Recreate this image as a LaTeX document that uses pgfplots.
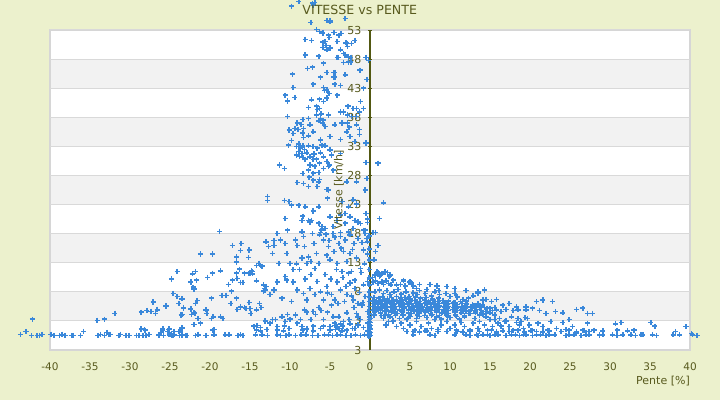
\documentclass[border=0pt]{standalone}
\usepackage{fontspec}
\setmainfont{DejaVu Sans}
\usepackage{pgfplots}
\pgfplotsset{compat=1.18}
\definecolor{bgc}{RGB}{236,241,205}
\definecolor{bandc}{RGB}{242,242,242}
\definecolor{gridc}{RGB}{217,217,217}
\definecolor{framec}{RGB}{214,214,214}
\definecolor{textc}{RGB}{88,90,30}
\definecolor{axisc}{RGB}{82,88,18}
\definecolor{ptc}{RGB}{58,136,218}
\begin{document}
\begin{tikzpicture}
\useasboundingbox (0,0) rectangle (720bp,400bp);
\fill[bgc] (0,0) rectangle (720bp,400bp);
\begin{axis}[at={(50bp,50bp)},anchor=south west,scale only axis,width=640bp,height=320bp,
  xmin=-40,xmax=40,ymin=-2,ymax=53,xtick=\empty,ytick=\empty,
  axis line style={draw=framec,line width=1.5bp},axis on top]
\fill[white] (axis cs:-40,-2) rectangle (axis cs:40,53);
\fill[bandc] (axis cs:-40,3) rectangle (axis cs:40,8);
\fill[bandc] (axis cs:-40,13) rectangle (axis cs:40,18);
\fill[bandc] (axis cs:-40,23) rectangle (axis cs:40,28);
\fill[bandc] (axis cs:-40,33) rectangle (axis cs:40,38);
\fill[bandc] (axis cs:-40,43) rectangle (axis cs:40,48);
\end{axis}
\begin{axis}[at={(50bp,50bp)},anchor=south west,scale only axis,width=640bp,height=320bp,
  xmin=-40,xmax=40,ymin=-2,ymax=53,clip=false,
  axis x line=bottom, axis y line=center,
  hide obscured x ticks=false, hide obscured y ticks=false,
  x axis line style={draw=framec,line width=1.5bp,-},
  y axis line style={draw=axisc,line width=1.3bp,-},
  xtick={-40,-35,...,40},
  xticklabels={-40,-35,-30,-25,-20,-15,-10,-5,0,5,10,15,20,25,30,35,40},
  xtick style={draw=none},
  ytick={-2,3,...,53},
  yticklabels={3,3,8,13,18,23,28,33,38,43,48,53},
  ytick style={draw=axisc,line width=0.8bp},
  tick align=center, major tick length=4bp,
  ymajorgrids, major grid style={draw=gridc,line width=1bp},
  xticklabel style={font=\fontsize{10.5bp}{12bp}\selectfont,text=textc,yshift=-7bp},
  yticklabel style={font=\fontsize{11bp}{13bp}\selectfont,text=textc,anchor=east,xshift=-3bp},
  title={VITESSE vs PENTE},
  title style={font=\fontsize{12.6bp}{15bp}\selectfont,text=textc,at={(axis description cs:0.484,1.043)},anchor=center,inner sep=0pt},
  xlabel={Pente [\%]},
  xlabel style={font=\fontsize{11bp}{13bp}\selectfont,text=textc,at={(axis description cs:1,-0.097)},anchor=east,inner sep=0pt},
  ylabel={Vitesse [km/h]},
  ylabel style={font=\fontsize{11bp}{13bp}\selectfont,text=textc,at={(axis description cs:0.4516,0.5)},anchor=center,rotate=90,inner sep=0pt},
]
\addplot[only marks, mark=+, mark size=2.6bp, color=ptc, mark options={line width=1.5bp}] coordinates {
(-43.7,0.7)(-43.0,1.2)(-42.2,3.3)(-42.3,0.5)(-41.6,0.5)(-41.3,0.5)(-41.0,0.7)(-39.9,0.7)(-39.5,0.5)(-38.8,0.5)
(-38.5,0.7)(-38.1,0.5)(-37.3,0.5)(-37.1,0.5)(-36.2,0.5)(-35.8,1.2)(-34.1,3.1)(-34.0,0.5)(-33.7,0.7)(-33.2,3.3)
(-33.2,0.5)(-32.9,1.0)(-32.6,0.7)(-32.5,0.7)(-31.9,4.3)(-31.4,0.5)(-31.2,0.7)(-30.5,0.5)(-30.1,0.5)(-29.2,0.5)
(-28.9,0.5)(-28.6,1.6)(-28.6,4.5)(-28.2,1.5)(-28.4,0.5)(-28.0,0.5)(-27.9,4.8)(-27.6,0.7)(-27.3,4.6)(-27.1,6.2)
(-26.8,4.3)(-26.6,5.0)(-26.4,0.5)(-26.1,1.0)(-25.9,1.6)(-25.5,5.5)(-25.3,1.2)(-25.1,1.6)(-25.0,0.6)(-24.9,0.6)
(-24.6,0.5)(-24.5,1.2)(-23.9,1.2)(-23.5,1.8)(-23.8,0.5)(-23.5,0.5)(-22.9,0.5)(-23.9,6.0)(-23.3,5.2)(-23.5,4.1)
(-22.4,5.0)(-22.3,4.1)(-21.9,4.3)(-22.0,2.4)(-21.8,6.0)(-21.5,3.4)(-21.8,0.5)(-21.5,0.7)(-28.1,1.4)
(-18.8,18.4)(-21.2,14.5)(-19.7,14.5)(-24.1,11.5)(-24.8,10.2)(-22.2,11.1)(-21.8,11.5)(-22.4,9.7)(-22.1,8.8)(-22.0,8.5)
(-21.7,10.0)(-20.3,10.5)(-19.7,11.2)(-18.7,11.6)(-24.6,7.7)(-24.1,7.2)(-25.5,5.6)(-27.1,6.3)(-26.6,4.9)(-27.4,4.6)
(-23.5,6.8)(-23.3,5.3)(-23.6,4.0)(-22.4,5.1)(-22.0,4.4)(-21.6,6.5)(-21.2,2.6)(-20.5,4.9)(-20.4,4.3)(-19.8,6.9)
(-19.6,3.7)(-19.8,3.4)(-18.7,3.7)(-18.4,3.4)(-18.5,7.4)(-18.0,7.4)(-17.3,8.1)(-17.7,9.3)(-17.2,10.0)(-16.7,11.2)
(-16.3,11.9)(-17.2,16.0)(-16.1,16.3)(-16.7,13.1)(-16.2,15.1)(-15.1,15.2)(-16.7,14.0)(-16.6,10.3)(-16.2,9.6)(-15.9,9.6)
(-15.7,11.2)(-15.1,11.2)(-14.8,11.6)(-14.7,11.1)(-14.2,9.9)(-13.2,8.6)(-13.3,8.1)(-17.4,6.0)(-16.7,6.9)(-16.6,5.0)
(-16.2,5.4)(-15.7,5.3)(-15.5,5.1)(-15.0,5.1)(-14.9,4.3)(-15.1,6.2)(-14.2,4.9)(-13.8,6.0)(-13.6,5.3)
(-26.4,0.6)(-25.8,0.5)(-25.1,0.6)(-24.8,0.5)(-24.5,0.6)(-23.5,0.6)(-23.0,0.5)(-21.5,0.6)(-20.5,0.5)(-19.5,0.6)
(-18.1,0.6)(-16.5,0.5)(-16.2,0.6)(-15.9,0.5)(-14.3,0.6)(-12.8,0.5)(-11.6,0.6)(-10.5,0.5)(-10.1,0.6)(-9.3,0.5)
(-8.0,0.6)(-7.2,0.5)(-5.7,0.6)(-4.7,0.5)(-3.7,0.6)(-3.0,0.5)(-17.6,0.6)(-13.5,0.6)(-11.2,0.5)(-8.6,0.6)
(-6.5,0.5)(-5.2,0.6)(-4.1,0.6)(-2.4,0.5)(-1.8,0.6)(-1.2,0.5)(-0.7,0.6)
(-25.9,1.4)(-25.2,1.5)(-23.7,1.3)(-19.7,1.4)(-19.5,1.5)(-14.2,1.4)(-13.7,1.3)(-12.9,1.5)(-11.6,1.4)(-10.8,1.3)
(-8.4,1.4)(-7.9,1.5)(-7.1,1.3)(-5.0,1.4)(-4.3,1.5)(-3.5,1.3)
(-14.1,2.2)(-13.1,3.0)(-12.2,3.2)(-11.6,2.0)(-11.6,1.4)(-11.0,3.7)(-10.6,2.9)(-10.3,4.1)(-10.0,3.3)(-9.3,4.0)
(-8.7,3.2)(-8.2,4.9)(-7.9,4.5)(-7.4,3.2)(-7.1,4.6)(-6.8,4.1)(-6.4,5.3)(-6.1,4.8)(-5.8,3.2)(-5.3,4.5)
(-4.8,5.7)(-4.6,3.7)(-4.4,2.2)(-4.1,2.0)(-3.9,3.7)(-3.7,2.5)(-3.3,2.9)(-2.9,4.4)(-2.6,3.2)(-2.2,1.7)
(-2.0,5.3)(-1.7,4.3)(-1.5,3.7)(-1.2,3.2)(-1.0,5.7)
(-14.7,11.5)(-13.3,9.2)(-13.1,8.3)(-13.0,8.9)(-12.5,7.5)(-12.0,8.3)(-11.6,9.7)(-11.0,6.9)(-10.6,10.6)(-10.4,10.0)
(-9.8,6.3)(-9.6,9.7)(-9.1,8.3)(-8.3,7.7)(-7.9,6.6)(-7.5,8.6)(-6.9,7.5)(-6.2,8.0)(-5.8,6.6)(-5.4,8.9)
(-4.8,7.5)(-4.4,6.6)(-4.1,9.7)(-3.7,8.3)(-3.2,6.3)(-2.9,7.5)(-2.5,9.5)(-2.1,6.6)(-1.9,8.6)(-1.5,6.0)
(-0.8,9.2)(-0.6,7.2)
(-15.2,13.9)(-15.0,11.2)(-14.2,12.5)(-13.9,12.9)(-13.7,12.5)(-13.5,12.4)(-13.0,16.6)(-12.7,15.8)(-12.2,14.6)(-12.0,16.0)
(-12.0,16.8)(-11.6,18.0)(-11.4,12.9)(-11.2,16.9)(-10.6,16.3)(-10.4,14.6)(-10.3,18.6)(-10.0,12.9)(-9.6,11.8)(-9.3,16.9)
(-9.1,16.0)(-8.5,13.8)(-8.5,18.3)(-8.3,17.5)(-8.2,15.8)(-7.9,12.9)(-7.7,14.0)(-7.4,13.2)(-7.2,18.0)(-7.0,16.3)
(-6.7,14.6)(-6.4,12.9)(-6.3,17.8)(-6.1,18.6)(-5.8,16.9)(-5.4,14.3)(-5.2,15.8)(-5.0,13.5)(-4.6,18.0)(-4.5,14.9)
(-4.1,12.9)(-3.9,16.3)(-3.7,17.5)(-3.5,11.5)(-3.3,14.9)(-3.1,16.9)(-2.9,13.2)(-2.7,18.3)(-2.5,14.6)(-2.3,11.5)
(-2.0,16.3)(-1.7,13.8)(-1.5,17.2)(-1.2,12.0)(-0.8,15.2)(-0.6,18.0)
(-5.6,11.0)(-4.9,10.2)(-4.2,11.8)(-3.4,10.5)(-2.7,11.2)(-1.9,10.0)(-1.1,11.3)(-0.7,12.8)(-5.3,7.8)(-3.0,8.9)
(-1.3,7.9)(-0.9,6.2)(-2.3,7.3)(-4.0,6.0)(-6.6,9.8)(-7.4,11.0)(-8.1,10.2)(-8.8,11.8)(-9.2,12.8)(-6.9,12.0)
(-5.1,16.8)(-3.6,15.5)(-2.2,15.3)(-1.0,16.5)(-4.4,17.4)
(-14.5,2.1)(-13.7,1.9)(-12.5,2.6)(-11.8,3.2)(-10.7,2.1)(-10.1,1.7)(-9.1,2.6)(-8.5,2.0)(-7.9,1.7)(-7.1,2.1)
(-6.2,1.7)(-5.8,2.1)(-5.0,2.0)(-4.4,2.6)(-3.9,1.7)(-3.4,2.1)(-2.9,1.4)(-2.5,2.5)(-1.9,1.7)(-1.5,2.3)(-0.8,1.9)
(-8.5,20.3)(-7.5,20.0)(-6.4,19.8)(-6.2,18.2)(-5.5,17.9)(-4.6,19.2)(-3.7,18.2)(-3.1,19.8)(-2.5,17.8)(-2.1,18.9)
(-1.5,20.0)(-0.8,18.6)(-0.4,17.2)
(-9.8,57.1)(-8.9,57.9)(-7.2,57.6)(-6.9,57.7)(-7.1,57.3)(-7.4,54.3)(-5.4,54.6)(-5.0,54.4)(-6.7,53.1)(-6.3,52.7)
(-5.9,52.5)(-5.2,52.1)(-5.1,51.7)(-4.5,52.6)(-3.9,52.1)(-8.1,51.4)(-7.3,51.2)(-5.9,50.9)(-5.6,51.0)(-5.4,49.6)
(-5.0,49.9)(-5.5,50.3)(-5.9,50.0)(-3.0,50.8)(-2.8,50.2)(-2.3,50.7)(-1.9,51.2)(-8.1,48.7)(-6.4,48.5)(-4.0,48.3)
(-3.3,49.0)(-2.7,47.5)(-2.4,47.5)(-1.2,46.1)(-0.5,48.3)(-7.8,46.4)(-7.2,46.6)(-5.8,47.3)(-6.2,44.9)(-5.4,45.7)
(-4.5,45.7)(-4.5,44.9)(-3.7,43.5)(-3.1,45.3)(-9.7,45.4)(-9.6,43.1)(-7.1,43.7)(-5.8,43.1)(-5.7,42.6)(-5.4,42.7)
(-5.1,42.1)(-4.1,41.8)(-10.6,41.8)(-10.3,40.8)(-9.4,41.4)(-7.3,41.0)(-6.3,41.1)(-5.8,40.7)(-5.4,41.3)(-2.8,39.9)
(-1.7,39.5)(-1.3,38.9)(-7.7,39.7)(-6.7,39.9)(-6.6,39.3)(-6.3,39.5)(-6.7,38.4)(-6.1,38.6)(-6.2,37.8)(-5.2,38.4)
(-3.7,38.9)(-3.3,38.9)(-2.8,38.4)(-2.3,38.1)(-1.7,38.1)(-10.3,38.1)(-8.4,37.6)(-7.7,37.8)(-9.1,37.0)(-8.6,36.8)
(-9.4,36.1)(-9.0,35.9)(-8.3,36.1)(-7.5,36.7)(-6.4,37.4)(-5.8,37.5)(-5.9,37.0)(-5.6,36.4)(-4.4,36.7)(-3.5,37.0)
(-2.8,37.0)(-2.6,36.3)(-1.7,36.7)(-1.3,35.9)(-10.1,35.8)(-9.6,35.2)(-8.4,35.3)(-8.3,34.5)(-7.7,34.8)(-7.1,35.5)
(-6.2,34.1)(-5.0,34.7)(-3.7,34.2)(-2.9,35.5)(-2.5,34.7)(-1.9,33.8)(-1.3,35.0)(-0.5,33.6)(-9.8,34.0)(-10.2,33.2)
(-9.2,33.0)(-8.9,33.4)(-8.7,32.7)(-8.4,33.1)(-8.2,32.5)(-7.7,33.1)(-7.1,33.0)(-6.6,32.7)(-6.0,33.2)(-5.6,33.1)
(-5.0,32.4)(-8.9,32.1)(-8.5,31.8)(-7.9,31.9)(-7.0,31.7)(-6.2,31.9)(-9.2,31.5)(-8.8,31.3)(-8.4,31.1)(-8.1,30.8)
(-7.5,31.2)(-7.1,30.7)(-6.7,30.8)(-6.3,30.1)(-5.8,31.2)(-5.4,30.4)(-5.1,29.8)(-4.8,31.5)(-3.7,31.8)(-11.3,29.8)
(-10.7,29.2)(-7.5,29.8)(-6.9,29.6)(-7.7,28.9)(-7.1,28.4)(-6.4,28.5)(-5.8,29.2)(-5.2,29.5)(-4.6,28.9)(-8.4,28.3)
(-7.6,27.7)(-7.1,27.2)(-6.4,26.9)(-6.3,27.3)(-9.1,26.8)(-8.3,26.6)(-7.7,26.1)(-6.6,26.1)(-5.2,25.5)(-2.9,26.9)
(-1.7,26.9)(-12.8,24.4)(-12.8,23.7)(-10.7,23.7)(-10.1,23.5)(-9.8,22.9)(-8.9,22.9)(-8.1,22.6)(-7.1,21.9)(-6.4,22.6)
(-5.4,25.6)(-5.3,24.1)(-3.5,23.5)(-2.7,22.6)(-2.1,23.8)(-1.7,23.1)(-10.6,20.6)(-8.4,21.0)(-7.7,20.3)(-7.3,20.3)
(-6.4,19.7)(-6.0,19.2)(-5.6,18.9)(-5.0,20.9)(-4.1,20.3)(-3.7,21.2)(-3.1,21.5)(-2.5,20.9)(-1.9,20.3)(-1.2,19.7)
(-0.5,21.5)(-0.6,18.6)(-3.3,47.4)(-1.3,46.1)(-4.4,45.7)(-4.4,44.9)(-4.4,43.7)(-0.8,43.0)(-2.7,39.9)(-2.1,39.5)
(-1.2,40.7)(-0.8,39.5)(-0.5,33.5)(-0.6,25.5)(-0.3,19.9)(-0.3,16.6)
(-5.0,54.6)(-3.1,55.0)(-3.6,52.4)(-4.1,51.0)(-2.9,50.7)(-3.7,49.6)(-3.1,48.7)(-2.7,48.4)(-4.1,48.3)(-2.4,48.3)
(-0.4,44.5)(-0.2,47.8)(-0.5,30.2)(-0.4,27.5)
(-0.1,0.3)(-0.1,0.6)(-0.1,0.9)(-0.1,1.2)(-0.1,1.5)(-0.1,1.8)(-0.1,2.1)(-0.1,2.4)(-0.1,2.8)(-0.1,3.2)
(-0.1,3.7)(-0.1,4.2)(-0.1,4.8)(-0.1,5.5)(-0.1,6.3)(-0.1,7.1)(-0.1,8.0)(-0.1,9.2)(-0.1,10.4)(-0.1,11.8)
(-0.1,13.5)(-0.1,15.4)(-0.1,17.6)(0.05,0.5)(0.05,1.0)(0.05,1.6)(0.05,2.2)(0.05,2.7)(0.05,3.4)(-0.3,0.5)
(-0.3,1.3)(-0.3,2.6)(-0.3,4.6)(-0.3,9.8)(-0.3,14.5)(-0.3,20.5)
(1.0,30.1)(1.7,23.3)(1.2,20.6)(0.7,18.2)(1.0,16.0)(0.5,13.5)(0.7,14.9)(0.4,18.2)
(0.3,10.5)(0.6,10.9)(1.0,11.3)(1.2,10.7)(1.5,11.1)(1.9,11.4)(2.2,11.3)(2.4,10.7)(0.4,9.7)(0.7,9.9)
(1.0,9.4)(1.5,9.7)(1.7,9.3)(2.0,9.9)(2.3,9.4)(2.6,9.2)(2.9,10.0)(3.3,9.2)(3.8,9.3)(4.2,9.9)
(4.4,9.0)(4.9,9.6)(5.2,9.6)(5.4,9.0)(5.8,8.6)(7.5,9.3)(8.3,9.0)(8.6,8.2)(0.9,11.4)(1.3,10.9)
(2.5,10.9)(4.2,10.0)(5.0,9.7)(5.2,9.4)(6.2,9.3)(8.4,9.0)(9.6,8.9)(10.6,8.6)(12.0,8.2)(13.5,8.0)(14.3,8.3)
(0.6,8.0)(1.2,8.3)(1.7,7.7)(2.1,8.2)(2.5,7.5)(3.0,8.0)(3.5,8.4)(3.9,7.6)(4.5,8.0)(4.9,7.2)
(5.4,7.8)(5.9,7.5)(6.2,8.2)(6.9,7.7)(7.1,8.4)(7.7,7.3)(8.1,8.0)(8.7,7.5)(9.5,7.7)(10.0,7.2)
(10.6,7.7)(10.9,7.1)(11.6,6.7)(12.3,6.9)(12.9,7.3)(13.5,7.8)(14.1,6.6)(14.5,6.7)(15.2,6.3)(15.8,6.7)
(16.6,5.7)(17.4,6.0)(18.3,5.4)(19.5,5.4)(20.8,6.3)(21.6,6.6)(22.8,6.3)(19.5,4.9)(20.3,5.2)(21.2,4.8)
(22.0,4.3)(23.2,4.6)(24.1,4.4)(25.8,5.0)(26.6,5.2)(27.2,4.3)(27.8,4.3)
(0.5,7.0)(1.1,6.9)(1.6,7.1)(2.2,6.8)(2.7,7.0)(3.3,7.2)(3.8,6.9)(4.4,7.0)(5.0,6.8)(5.7,7.1)(6.3,6.9)(7.0,7.0)(7.8,6.8)(8.6,6.9)
(0.3,6.5)(0.8,6.4)(1.3,6.6)(1.9,6.5)(2.4,6.3)(2.9,6.6)(3.4,6.4)(4.0,6.5)(4.5,6.7)(5.1,6.4)(5.6,6.5)(6.2,6.3)(6.8,6.6)
(7.3,6.4)(7.9,6.5)(8.5,6.3)(9.1,6.5)(9.8,6.4)(10.5,6.2)(11.3,6.3)(12.0,6.4)
(0.6,6.25)(1.5,6.3)(2.6,6.2)(3.7,6.25)(4.8,6.2)(5.9,6.25)(7.0,6.2)(8.1,6.3)(9.4,6.2)(10.7,6.1)
(0.4,6.0)(0.9,6.1)(1.4,5.9)(2.0,6.0)(2.5,6.2)(3.0,5.9)(3.6,6.0)(4.1,6.1)(4.7,5.9)(5.2,6.0)(5.8,6.1)(6.3,5.9)(6.9,6.0)
(7.4,6.1)(8.0,5.9)(8.6,6.0)(9.2,6.1)(9.7,5.9)(10.3,6.0)(10.9,5.8)(11.5,6.0)(12.1,5.9)(12.8,5.8)(13.5,5.9)(14.1,5.7)
(0.7,5.8)(1.7,5.7)(2.8,5.75)(3.9,5.7)(4.9,5.8)(6.0,5.7)(7.1,5.8)(8.3,5.7)(9.5,5.75)(10.6,5.7)(11.8,5.6)(13.0,5.6)
(0.5,5.5)(1.0,5.4)(1.6,5.6)(2.1,5.5)(2.7,5.4)(3.2,5.5)(3.8,5.6)(4.3,5.4)(4.9,5.5)(5.4,5.6)(6.0,5.4)(6.5,5.5)(7.1,5.3)
(7.6,5.5)(8.2,5.4)(8.7,5.6)(9.3,5.4)(9.8,5.5)(10.4,5.3)(10.9,5.4)(11.5,5.5)(12.0,5.3)(12.6,5.4)(13.1,5.2)(13.7,5.4)
(14.3,5.3)(15.0,5.2)(15.6,5.3)
(0.9,5.2)(2.0,5.3)(3.1,5.2)(4.2,5.3)(5.3,5.2)(6.4,5.25)(7.5,5.2)(8.6,5.3)(9.7,5.2)(10.8,5.1)(11.9,5.2)(13.3,5.0)(14.6,5.1)
(0.4,5.0)(1.0,4.9)(1.5,5.1)(2.1,5.0)(2.6,4.8)(3.2,5.0)(3.7,4.9)(4.3,5.1)(4.8,4.9)(5.4,5.0)(5.9,4.8)(6.5,5.0)(7.0,4.9)
(7.6,5.0)(8.1,4.8)(8.7,5.0)(9.2,4.9)(9.8,4.8)(10.3,5.0)(10.9,4.8)(11.4,4.9)(12.0,4.7)(12.6,4.9)(13.2,4.7)(13.9,4.8)
(14.5,4.6)(15.3,4.8)(15.8,4.9)(16.4,4.6)(17.0,5.0)(17.9,4.8)(18.5,4.9)
(0.8,4.75)(1.8,4.7)(2.9,4.75)(4.0,4.7)(5.1,4.75)(6.2,4.7)(7.3,4.7)(8.4,4.75)(9.5,4.6)(10.6,4.7)(11.7,4.6)
(0.6,4.5)(1.3,4.4)(2.0,4.6)(2.7,4.5)(3.4,4.3)(4.1,4.5)(4.8,4.4)(5.5,4.6)(6.2,4.4)(6.9,4.5)(7.6,4.3)(8.3,4.5)(9.0,4.4)
(9.8,4.3)(10.6,4.5)(11.4,4.4)(12.3,4.3)(13.2,4.4)(14.1,4.2)(15.0,4.4)
(0.5,4.0)(1.4,3.9)(2.3,4.1)(3.2,3.9)(4.1,4.0)(5.0,3.8)(5.9,4.0)(6.8,3.9)(7.8,4.1)(8.7,3.9)(9.7,3.8)(10.7,4.0)(11.8,3.9)
(1.9,4.0)(2.5,3.7)(3.1,4.3)(3.7,3.4)(4.2,4.0)(4.8,3.6)(5.2,4.3)(5.8,3.4)(6.2,3.8)(7.1,3.6)
(7.7,4.0)(8.3,3.7)(8.9,3.3)(9.6,4.0)(10.0,3.6)(10.8,3.8)(11.2,3.3)(11.8,3.7)(12.5,4.3)(13.1,3.4)
(13.7,4.0)(14.5,3.7)(15.0,3.2)(15.6,4.0)(16.2,3.4)(17.0,3.0)(17.7,3.7)(18.5,3.4)(18.9,2.9)(19.4,3.6)
(1.7,3.4)(2.3,2.9)(2.0,2.3)(2.9,3.0)(3.3,2.0)(3.9,2.6)(4.2,1.7)(4.6,3.3)(5.0,2.3)(5.4,1.2)
(5.8,2.9)(6.4,2.0)(6.9,1.3)(7.3,2.6)(7.7,1.7)(8.1,3.2)(8.5,1.2)(8.9,2.3)(9.6,2.9)(10.0,1.7)
(10.6,2.3)(10.9,1.2)(11.4,2.7)(11.8,2.0)(12.5,1.4)(12.9,2.6)(13.5,1.7)(13.7,2.9)(14.3,2.3)(14.7,1.4)
(15.3,2.0)(15.6,3.2)(16.0,2.6)(16.4,2.1)(16.8,2.9)(17.4,2.0)(17.9,1.4)(18.3,2.7)(18.7,2.3)(19.2,1.7)
(19.7,3.4)(19.9,2.3)(20.3,1.4)(21.0,2.6)(21.6,2.0)(22.2,1.4)(22.6,2.9)(23.3,1.7)(24.1,2.7)(24.5,1.5)
(24.9,3.2)(25.3,2.0)(25.8,0.9)(26.6,1.4)(27.2,2.6)(27.4,0.6)(28.0,1.4)(28.7,0.6)(30.7,2.5)(31.4,2.7)
(30.9,1.4)(32.2,1.3)(33.0,1.4)(35.1,2.7)(35.6,2.1)(38.2,1.2)(39.5,2.0)(40.2,0.8)
(5.4,0.6)(7.5,0.6)(8.1,0.5)(10.6,0.6)(12.0,0.6)(12.5,0.5)(13.3,0.6)(13.5,0.5)(14.1,0.6)(14.7,0.6)
(15.0,0.5)(15.6,0.6)(16.0,0.6)(17.0,0.5)(17.7,0.6)(18.2,0.6)(18.7,0.5)(19.2,0.6)(19.5,0.6)(20.3,0.5)
(20.8,0.6)(21.3,0.6)(22.0,0.5)(22.4,0.6)(23.1,0.6)(24.5,0.5)(24.9,0.6)(25.5,0.6)(26.4,0.5)(27.0,0.6)
(28.7,0.5)(29.1,0.6)(30.3,0.6)(30.9,0.5)(31.6,0.6)(32.6,0.6)(33.2,0.5)(33.9,0.6)(34.1,0.6)(35.3,0.6)
(35.8,0.5)(37.9,0.6)(38.7,0.6)(40.3,0.6)(40.9,0.5)
(4.6,1.2)(5.6,1.4)(6.2,1.1)(7.1,1.3)(8.5,1.5)(9.6,1.2)(10.8,1.4)(11.6,1.1)(12.5,1.3)(13.7,1.2)
(15.2,1.4)(15.8,1.1)(16.6,1.3)(17.4,1.2)(18.5,1.4)(19.3,1.1)(20.1,1.3)(20.8,1.2)(21.6,1.1)(22.4,1.3)
(23.9,1.2)(24.9,1.4)(25.8,1.1)(26.8,1.3)(27.4,1.2)(29.1,1.3)
};
\end{axis}
\end{tikzpicture}
\end{document}
